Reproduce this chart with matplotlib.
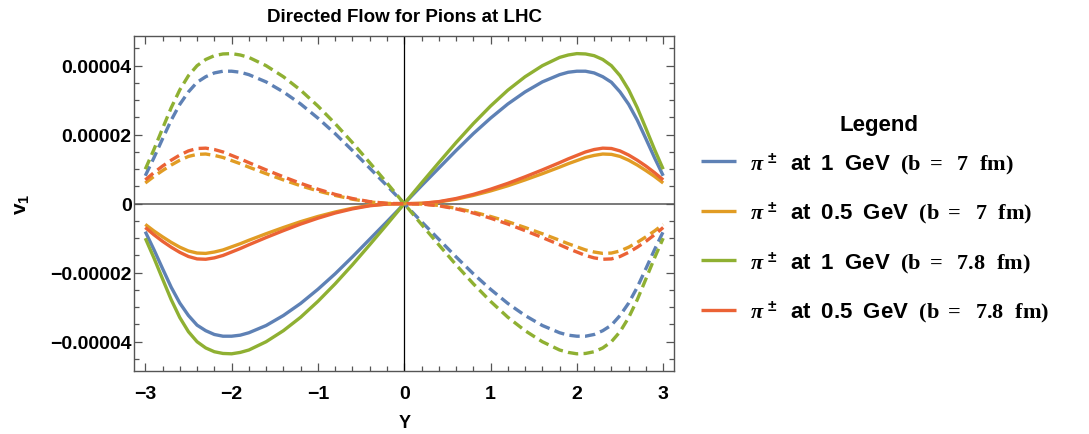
import numpy as np
import matplotlib
matplotlib.use("Agg")
import matplotlib.pyplot as plt
from matplotlib.ticker import MultipleLocator, FuncFormatter

plt.rcParams.update({
    "font.family": ["Liberation Sans", "DejaVu Sans"],
    "font.weight": "bold",
    "mathtext.fontset": "custom",
    "mathtext.rm": "Liberation Sans:bold",
    "mathtext.it": "Liberation Serif:italic",
    "mathtext.bf": "Liberation Serif:bold",
    "mathtext.sf": "Liberation Sans:bold",
})

# rapidity grid
rapidity = [-3.0, -2.9, -2.8, -2.7, -2.6, -2.5, -2.4, -2.3, -2.2, -2.1, -2.0, -1.9, -1.8,
            -1.6, -1.4, -1.2, -1.0, -0.8, -0.6, -0.4, -0.2, 0.0,
            0.2, 0.4, 0.6, 0.8, 1.0, 1.2, 1.4, 1.6, 1.8, 1.9, 2.0, 2.1, 2.2, 2.3, 2.4,
            2.5, 2.6, 2.7, 2.8, 2.9, 3.0]

# directed flow v1 in units of 1e-5 (solid: pi+, dashed: pi-)
v1_1gev_b7 = [-0.81, -1.33, -1.88, -2.42, -2.88, -3.24, -3.52, -3.68, -3.79, -3.84, -3.84, -3.81, -3.74,
              -3.53, -3.24, -2.89, -2.48, -2.03, -1.54, -1.03, -0.52, 0.0,
              0.52, 1.03, 1.54, 2.03, 2.48, 2.89, 3.24, 3.53, 3.74, 3.81, 3.84, 3.84, 3.79, 3.68, 3.52,
              3.24, 2.88, 2.42, 1.88, 1.33, 0.81]
v1_05gev_b7 = [-0.60, -0.79, -0.96, -1.12, -1.26, -1.37, -1.43, -1.44, -1.40, -1.34, -1.25, -1.16, -1.06,
               -0.87, -0.69, -0.52, -0.37, -0.24, -0.13, -0.05, -0.01, 0.0,
               0.01, 0.05, 0.13, 0.24, 0.37, 0.52, 0.69, 0.87, 1.06, 1.16, 1.25, 1.34, 1.40, 1.44, 1.43,
               1.37, 1.26, 1.12, 0.96, 0.79, 0.60]
v1_1gev_b78 = [-1.00, -1.57, -2.18, -2.78, -3.30, -3.71, -4.00, -4.18, -4.29, -4.34, -4.35, -4.31, -4.24,
               -4.00, -3.68, -3.29, -2.83, -2.32, -1.77, -1.19, -0.60, 0.0,
               0.60, 1.19, 1.77, 2.32, 2.83, 3.29, 3.68, 4.00, 4.24, 4.31, 4.35, 4.34, 4.29, 4.18, 4.00,
               3.71, 3.30, 2.78, 2.18, 1.57, 1.00]
v1_05gev_b78 = [-0.69, -0.90, -1.09, -1.26, -1.41, -1.53, -1.60, -1.61, -1.57, -1.50, -1.40, -1.30, -1.19,
                -0.98, -0.78, -0.59, -0.42, -0.27, -0.15, -0.06, -0.01, 0.0,
                0.01, 0.06, 0.15, 0.27, 0.42, 0.59, 0.78, 0.98, 1.19, 1.30, 1.40, 1.50, 1.57, 1.61, 1.60,
                1.53, 1.41, 1.26, 1.09, 0.90, 0.69]

v1m_1gev_b7 = [0.81, 1.33, 1.88, 2.42, 2.88, 3.24, 3.52, 3.68, 3.79, 3.84, 3.84, 3.81, 3.74,
               3.53, 3.24, 2.89, 2.48, 2.03, 1.54, 1.03, 0.52, 0.0,
               -0.52, -1.03, -1.54, -2.03, -2.48, -2.89, -3.24, -3.53, -3.74, -3.81, -3.84, -3.84, -3.79, -3.68, -3.52,
               -3.24, -2.88, -2.42, -1.88, -1.33, -0.81]
v1m_05gev_b7 = [0.60, 0.79, 0.96, 1.12, 1.26, 1.37, 1.43, 1.44, 1.40, 1.34, 1.25, 1.16, 1.06,
                0.87, 0.69, 0.52, 0.37, 0.24, 0.13, 0.05, 0.01, 0.0,
                -0.01, -0.05, -0.13, -0.24, -0.37, -0.52, -0.69, -0.87, -1.06, -1.16, -1.25, -1.34, -1.40, -1.44, -1.43,
                -1.37, -1.26, -1.12, -0.96, -0.79, -0.60]
v1m_1gev_b78 = [1.00, 1.57, 2.18, 2.78, 3.30, 3.71, 4.00, 4.18, 4.29, 4.34, 4.35, 4.31, 4.24,
                4.00, 3.68, 3.29, 2.83, 2.32, 1.77, 1.19, 0.60, 0.0,
                -0.60, -1.19, -1.77, -2.32, -2.83, -3.29, -3.68, -4.00, -4.24, -4.31, -4.35, -4.34, -4.29, -4.18, -4.00,
                -3.71, -3.30, -2.78, -2.18, -1.57, -1.00]
v1m_05gev_b78 = [0.69, 0.90, 1.09, 1.26, 1.41, 1.53, 1.60, 1.61, 1.57, 1.50, 1.40, 1.30, 1.19,
                 0.98, 0.78, 0.59, 0.42, 0.27, 0.15, 0.06, 0.01, 0.0,
                 -0.01, -0.06, -0.15, -0.27, -0.42, -0.59, -0.78, -0.98, -1.19, -1.30, -1.40, -1.50, -1.57, -1.61, -1.60,
                 -1.53, -1.41, -1.26, -1.09, -0.90, -0.69]

UNIT = 1e-5

SP = "\u2002"
labels = [
    r"$\pi^{\,\pm}$" + f"{SP}at{SP}1{SP}GeV{SP}" + r"$\mathbf{(b\ =\ \ 7\ \ fm)}$",
    r"$\pi^{\,\pm}$" + f"{SP}at{SP}0.5{SP}GeV{SP}" + r"$\mathbf{(b\ =\ \ 7\ \ fm)}$",
    r"$\pi^{\,\pm}$" + f"{SP}at{SP}1{SP}GeV{SP}" + r"$\mathbf{(b\ =\ \ 7.8\ \ fm)}$",
    r"$\pi^{\,\pm}$" + f"{SP}at{SP}0.5{SP}GeV{SP}" + r"$\mathbf{(b\ =\ \ 7.8\ \ fm)}$",
]
colors = ["#5E81B5", "#E19C24", "#8FB032", "#EB6235"]
solid_series = [v1_1gev_b7, v1_05gev_b7, v1_1gev_b78, v1_05gev_b78]
dashed_series = [v1m_1gev_b7, v1m_05gev_b7, v1m_1gev_b78, v1m_05gev_b78]

fig = plt.figure(figsize=(10.89, 4.35), dpi=100)
ax = fig.add_axes([0.1235, 0.1455, 0.4954, 0.7683])

x = np.array(rapidity)
handles = []
for vals, c, lab in zip(solid_series, colors, labels):
    h, = ax.plot(x, np.array(vals) * UNIT, color=c, lw=2.4, solid_capstyle="butt",
                 solid_joinstyle="round", label=lab, zorder=3)
    handles.append(h)
for vals, c in zip(dashed_series, colors):
    ax.plot(x, np.array(vals) * UNIT, color=c, lw=2.4, linestyle=(0, (3.1, 1.6)),
            dash_capstyle="butt", zorder=3)

ax.axhline(0, color="#555555", lw=1.1, zorder=2)
ax.axvline(0, color="black", lw=0.9, zorder=2)

ax.set_xlim(-3.125, 3.125)
ax.set_ylim(-4.84e-5, 4.846e-5)

frame_color = "#555555"
for s in ax.spines.values():
    s.set_color(frame_color)
    s.set_linewidth(1.0)

ax.xaxis.set_major_locator(MultipleLocator(1))
ax.xaxis.set_minor_locator(MultipleLocator(0.2))
ax.yaxis.set_major_locator(MultipleLocator(2e-5))
ax.yaxis.set_minor_locator(MultipleLocator(0.5e-5))


def xfmt(v, pos):
    n = int(round(v))
    return f"\u2212{abs(n)}" if n < 0 else f"{n}"


def yfmt(v, pos):
    if abs(v) < 1e-12:
        return "0"
    s = f"{abs(v):.5f}"
    return f"\u2212{s}" if v < 0 else s


ax.xaxis.set_major_formatter(FuncFormatter(xfmt))
ax.yaxis.set_major_formatter(FuncFormatter(yfmt))
ax.tick_params(which="both", direction="in", top=True, right=True, color=frame_color,
               width=0.9, labelsize=14, labelcolor="black")
ax.tick_params(which="major", length=6)
ax.tick_params(which="minor", length=3.5)
ax.tick_params(axis="y", pad=2)
ax.tick_params(axis="x", pad=10)

ax.set_title("Directed Flow for Pions at LHC", fontsize=13.5, fontweight="bold", pad=11)
ax.set_xlabel("Y", fontsize=13, fontweight="bold", labelpad=9)
ax.set_ylabel(r"$\mathsf{v_1}$", fontsize=15, labelpad=13)

leg = fig.legend(handles=handles, labels=labels, loc="upper left",
                 bbox_to_anchor=(0.636, 0.672), frameon=False, fontsize=16,
                 handlelength=1.55, handletextpad=0.65, labelspacing=1.09, borderaxespad=0)
for line in leg.get_lines():
    line.set_linewidth(2.4)

# legend heading, centred over the legend entries
fig.text(879 / 1089, 1 - 125 / 435, "Legend", ha="center", va="center",
         fontsize=16, fontweight="bold")

fig.savefig("out.png", dpi=100)
